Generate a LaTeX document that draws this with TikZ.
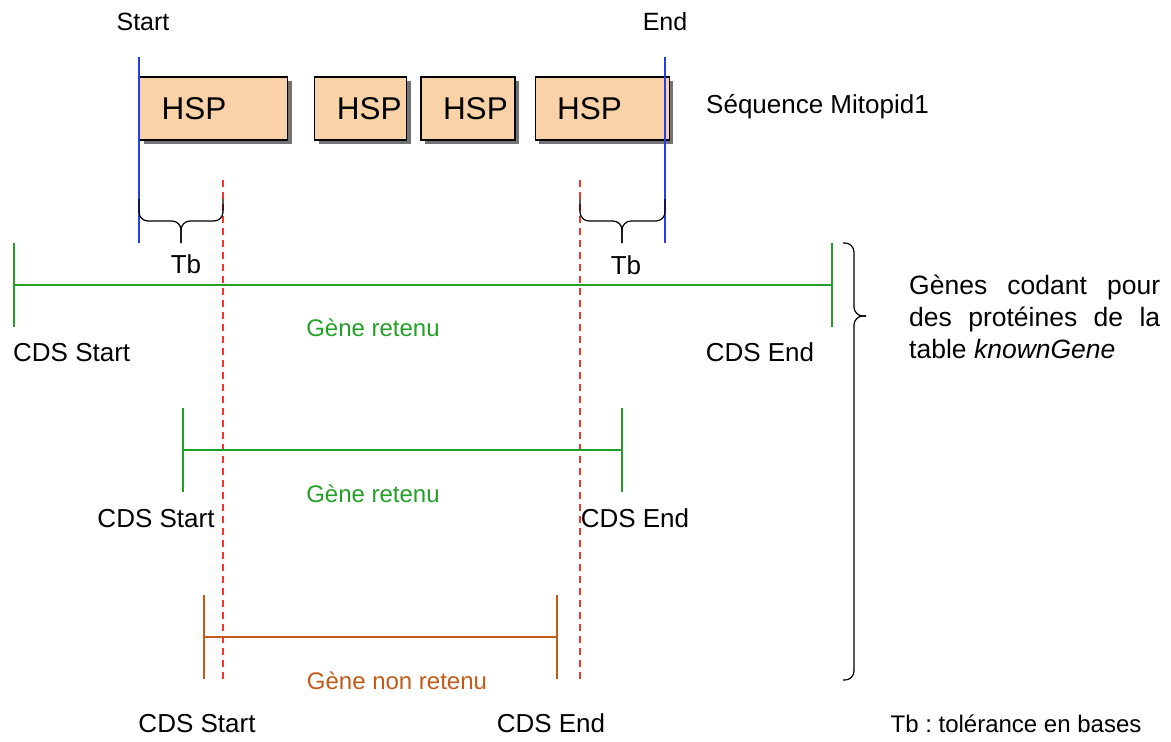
\documentclass[tikz,border=0pt]{standalone}
\usepackage{fontspec}
\setmainfont{Liberation Sans}
\usetikzlibrary{positioning,shadows,arrows.meta}
\frenchspacing

\definecolor{hspfill}{RGB}{250,210,168}
\definecolor{seqblue}{RGB}{40,60,235}
\definecolor{tolred}{RGB}{240,55,45}
\definecolor{genegreen}{RGB}{35,160,40}
\definecolor{rejorange}{RGB}{195,90,25}

\tikzset{
	hsp/.style={draw, line width=1.2pt, fill=hspfill,
		drop shadow={shadow xshift=4pt, shadow yshift=-4pt, fill=black!55, opacity=1},
		minimum height=63pt, text width=#1, inner xsep=0pt, inner ysep=0pt,
		align=left, anchor=west, font=\fontsize{31.5}{36}\selectfont,
		execute at begin node=\hspace*{22pt}},
	lbl/.style={font=\fontsize{26}{30}\selectfont, inner sep=0pt, anchor=base},
	sml/.style={font=\fontsize{24}{28}\selectfont, inner sep=0pt, anchor=base},
	seqlim/.style={draw=seqblue, line width=1.5pt},
	tol/.style={draw=tolred, line width=1.5pt, dash pattern=on 7pt off 5pt},
	gene/.style={line width=1.6pt, {Bar[width=84pt, line width=1.6pt]}-{Bar[width=84pt, line width=1.6pt]}},
	brc/.style={draw, line width=1.2pt, rounded corners=9pt}
}

\begin{document}
\begin{tikzpicture}[x=1pt, y=-1pt]
	\useasboundingbox (0,0) rectangle (1171,742);

	\node[sml, font=\fontsize{25}{29}\selectfont] (start) at (143,30) {Start};
	\node[sml, font=\fontsize{25}{29}\selectfont] (end) at (665,30) {End};

	\node[hsp=148pt] (hsp1) at (139,108.5) {HSP};
	\node[hsp=92pt, right=26pt of hsp1] (hsp2) {HSP};
	\node[hsp=94pt, right=13pt of hsp2] (hsp3) {HSP};
	\node[hsp=134pt, right=19pt of hsp3] (hsp4) {HSP};
	\node[lbl, anchor=base west] (seq) at (706,113) {Séquence Mitopid1};

	\coordinate (s1) at (139,57);
	\coordinate (s2) at (139,243);
	\coordinate (e1) at (665,57);
	\coordinate (e2) at (665,243);
	\draw[seqlim] (s1) -- (s2);
	\draw[seqlim] (e1) -- (e2);

	\coordinate (t1a) at (223,180);
	\coordinate (t1b) at (223,680);
	\coordinate (t2a) at (580,180);
	\coordinate (t2b) at (580,680);
	\draw[tol] (t1a) -- (t1b);
	\draw[tol] (t2a) -- (t2b);

	\draw[brc] (139,199) -- (139,221) -- (181,221) -- (181,243);
	\draw[brc] (223,199) -- (223,221) -- (181,221) -- (181,243);
	\draw[brc] (580,199) -- (580,221) -- (622,221) -- (622,243);
	\draw[brc] (665,199) -- (665,221) -- (622,221) -- (622,243);
	\node[lbl] (tb1) at (186,273) {Tb};
	\node[lbl] (tb2) at (626,274) {Tb};

	\coordinate (g1s) at (13,285);
	\coordinate (g1e) at (833,285);
	\draw[gene, draw=genegreen] (g1s) -- (g1e);
	\node[lbl, anchor=base west] (cs1) at (13,361) {CDS Start};
	\node[lbl] (ce1) at (760,361) {CDS End};
	\node[sml, text=genegreen] (ret1) at (373,336) {Gène retenu};

	\coordinate (g2s) at (182,450);
	\coordinate (g2e) at (623,450);
	\draw[gene, draw=genegreen] (g2s) -- (g2e);
	\node[lbl] (cs2) at (156,527) {CDS Start};
	\node[lbl] (ce2) at (635,527) {CDS End};
	\node[sml, text=genegreen] (ret2) at (373,502) {Gène retenu};

	\coordinate (g3s) at (203,637);
	\coordinate (g3e) at (558,637);
	\draw[gene, draw=rejorange] (g3s) -- (g3e);
	\node[sml, text=rejorange] (rej) at (397,689) {Gène non retenu};
	\node[lbl] (cs3) at (197,732) {CDS Start};
	\node[lbl] (ce3) at (551,732) {CDS End};

	\draw[brc] (843,243) -- (854,243) -- (854,316) -- (866,316);
	\draw[brc] (843,680) -- (854,680) -- (854,316) -- (866,316);
	\node[lbl, anchor=base west, align=left, font=\fontsize{26.5}{32}\selectfont] (genes) at (909,358)
		{\makebox[251pt][s]{Gènes codant pour}\\\makebox[251pt][s]{des protéines de la}\\table \textit{knownGene}};

	\node[sml] (legend) at (1016,732) {Tb : tolérance en bases};
\end{tikzpicture}
\end{document}
